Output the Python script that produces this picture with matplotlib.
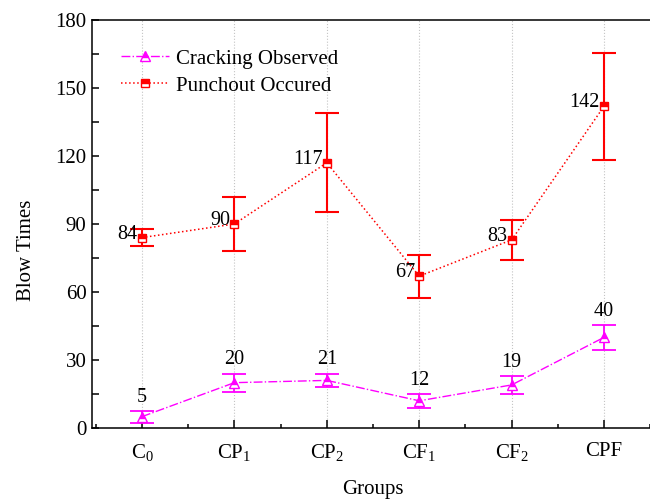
import numpy as np
import matplotlib.pyplot as plt
from matplotlib.ticker import MultipleLocator

plt.rcParams['font.family'] = ['Liberation Serif', 'DejaVu Serif']
plt.rcParams['mathtext.fontset'] = 'custom'
plt.rcParams['mathtext.rm'] = 'Liberation Serif'
plt.rcParams['mathtext.it'] = 'Liberation Serif:italic'

# groups and test results
groups = [r'$\mathrm{C}_0$', r'$\mathrm{CP}_1$', r'$\mathrm{CP}_2$',
          r'$\mathrm{CF}_1$', r'$\mathrm{CF}_2$', 'CPF']
crack_mean = [5, 20, 21, 12, 19, 40]
crack_err = [2.6, 4.0, 3.0, 3.0, 3.9, 5.5]
punch_mean = [84, 90, 117, 67, 83, 142]
punch_err = [3.8, 11.8, 21.9, 9.5, 8.7, 23.6]

x = np.arange(len(groups))

fig = plt.figure(figsize=(6.5, 5.01), dpi=100)
ax = fig.add_axes([92 / 650, 73 / 501, 562 / 650, 408 / 501])

# cracking observed
ax.errorbar(x, crack_mean, yerr=crack_err, fmt='none', ecolor='#ff00ff',
            elinewidth=1.3, capsize=8.5, capthick=1.3, zorder=3)
ax.plot(x, crack_mean, color='#ff00ff', linestyle='-.', linewidth=1.0,
        marker='^', markersize=7.5, fillstyle='top', markerfacecolor='#ff00ff',
        markerfacecoloralt='white', markeredgecolor='#ff00ff',
        markeredgewidth=1.0, label='Cracking Observed', zorder=4)

# punchout occurred
ax.errorbar(x, punch_mean, yerr=punch_err, fmt='none', ecolor='#ff0000',
            elinewidth=1.5, capsize=8.5, capthick=1.5, zorder=3)
ax.plot(x, punch_mean, color='#ff0000', linestyle=':', linewidth=1.1,
        marker='s', markersize=6, fillstyle='top', markerfacecolor='#ff0000',
        markerfacecoloralt='white', markeredgecolor='#ff0000',
        markeredgewidth=1.0, label='Punchout Occured', zorder=4)

# value labels
for xi, m, e in zip(x, crack_mean, crack_err):
    ax.annotate(str(m), (xi, m + e), xytext=(0, 3), textcoords='offset points',
                ha='center', va='bottom', fontsize=14.5)
for xi, m in zip(x, punch_mean):
    ax.annotate(str(m), (xi, m), xytext=(-3, 2.5), textcoords='offset points',
                ha='right', va='center', fontsize=14.5)

ax.set_xlim(-0.54, 5.54)
ax.set_ylim(0, 180)
ax.set_xticks(x)
ax.set_xticklabels(groups, fontsize=15)
ax.xaxis.set_minor_locator(MultipleLocator(0.5))
ax.yaxis.set_major_locator(MultipleLocator(30))
ax.yaxis.set_minor_locator(MultipleLocator(15))
ax.tick_params(axis='both', which='both', direction='in', width=1.1,
               labelsize=15, top=False, right=False)
ax.tick_params(axis='x', which='major', length=6, pad=10)
ax.tick_params(axis='x', which='minor', length=3)
ax.tick_params(axis='y', which='major', length=5, pad=4)
ax.tick_params(axis='y', which='minor', length=5)

ax.grid(axis='x', which='major', color='#c4c4c4', linestyle=':', linewidth=0.8)
ax.set_axisbelow(True)

for s in ax.spines.values():
    s.set_linewidth(1.1)

ax.set_xlabel('Groups', fontsize=15)
ax.set_ylabel('Blow Times', fontsize=15)
ax.xaxis.set_label_coords(0.5, -0.128)
ax.yaxis.set_label_coords(-0.10, 0.436)

ax.legend(loc='upper left', bbox_to_anchor=(0.0, 1.0), frameon=False,
          fontsize=15, handlelength=2.3, handletextpad=0.33, labelspacing=0.35,
          borderaxespad=1.0)

fig.savefig('out.png', dpi=100)
